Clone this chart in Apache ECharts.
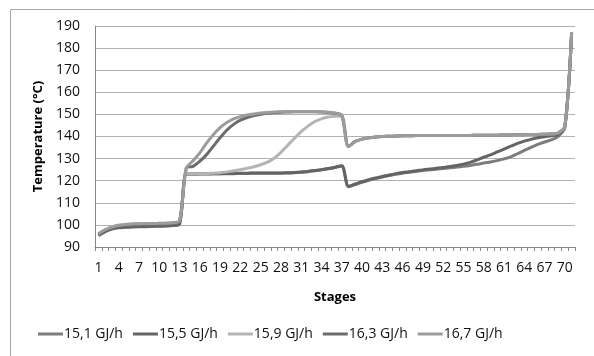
<!DOCTYPE html>
<html>
<head>
<meta charset="utf-8">
<script src="https://cdn.jsdelivr.net/npm/echarts@6/dist/echarts.min.js"></script>
<style>
  html, body { margin: 0; padding: 0; background: #fff; }
  #chart { width: 594px; height: 356px; }
</style>
</head>
<body>
<div id="chart"></div>
<script>
// Column stages 1..71
const stages = [];
for (let i = 1; i <= 71; i++) stages.push(String(i));

const seriesNames = ['15,1 GJ/h', '15,5 GJ/h', '15,9 GJ/h', '16,3 GJ/h', '16,7 GJ/h'];
const yTicks = { min: 90, max: 190, step: 10 };

// Temperature profiles (°C) per reboiler duty, stages 1..71
const t151 = [
  95.2, 96.9, 98.1, 98.7, 98.9, 99.1, 99.2, 99.2, 99.3, 99.4, 99.5, 99.7, 100.4,
  122.9, 122.9, 123.0, 123.0, 123.1, 123.1, 123.2, 123.2, 123.3, 123.3, 123.4, 123.4,
  123.4, 123.4, 123.4, 123.5, 123.6, 123.8, 124.1, 124.5, 124.9, 125.4, 126.0, 126.7,
  117.3, 118.3, 119.3, 120.2, 121.0, 121.7, 122.3, 122.9, 123.4, 123.8, 124.2, 124.6,
  124.9, 125.2, 125.5, 125.8, 126.2, 126.5, 126.9, 127.4, 128.0, 128.5, 129.1, 129.9,
  130.8, 132.2, 133.7, 135.1, 136.4, 137.5, 138.5, 140.0, 144.0, 186.5
];
const t155 = [
  95.3, 97.0, 98.2, 98.8, 99.0, 99.2, 99.3, 99.3, 99.4, 99.5, 99.6, 99.8, 100.5,
  123.0, 123.0, 123.1, 123.1, 123.2, 123.2, 123.3, 123.3, 123.4, 123.4, 123.5, 123.5,
  123.5, 123.5, 123.5, 123.6, 123.7, 123.9, 124.2, 124.6, 125.0, 125.5, 126.1, 126.8,
  117.5, 118.5, 119.5, 120.4, 121.2, 121.9, 122.6, 123.2, 123.7, 124.1, 124.5, 124.9,
  125.3, 125.6, 126.0, 126.4, 126.9, 127.5, 128.3, 129.4, 130.6, 131.7, 133.0, 134.3,
  135.6, 136.9, 137.9, 138.7, 139.4, 139.9, 140.3, 141.0, 144.5, 187.0
];
const t159 = [
  96.0, 97.8, 99.0, 99.8, 100.2, 100.4, 100.5, 100.6, 100.6, 100.7, 100.8, 101.0, 101.8,
  123.0, 123.0, 123.1, 123.2, 123.4, 123.6, 124.0, 124.5, 125.0, 125.6, 126.3, 127.2,
  128.4, 130.2, 132.8, 136.0, 139.2, 142.2, 144.7, 146.7, 148.0, 148.8, 149.2, 149.3,
  135.5, 137.8, 138.8, 139.4, 139.8, 140.0, 140.1, 140.2, 140.3, 140.3, 140.4, 140.4,
  140.4, 140.5, 140.5, 140.5, 140.5, 140.5, 140.5, 140.6, 140.6, 140.6, 140.6, 140.7,
  140.7, 140.8, 140.8, 140.9, 140.9, 141.0, 141.1, 141.6, 144.5, 187.0
];
const t163 = [
  95.8, 97.5, 98.7, 99.4, 99.8, 100.0, 100.1, 100.2, 100.2, 100.3, 100.4, 100.6, 101.4,
  125.7, 126.5, 128.8, 131.8, 135.6, 139.4, 142.9, 145.5, 147.4, 148.6, 149.5, 150.1,
  150.5, 150.8, 151.0, 151.1, 151.2, 151.2, 151.2, 151.2, 151.1, 150.9, 150.5, 149.5,
  135.5, 137.8, 138.8, 139.4, 139.8, 140.0, 140.1, 140.2, 140.3, 140.3, 140.4, 140.4,
  140.4, 140.5, 140.5, 140.5, 140.5, 140.5, 140.5, 140.6, 140.6, 140.6, 140.6, 140.7,
  140.7, 140.8, 140.8, 140.9, 140.9, 141.0, 141.1, 141.6, 144.5, 187.0
];
const t167 = [
  96.0, 97.8, 99.0, 99.8, 100.2, 100.4, 100.5, 100.6, 100.6, 100.7, 100.8, 101.0, 101.8,
  125.7, 129.0, 132.6, 137.0, 140.8, 144.0, 146.3, 148.0, 149.0, 149.7, 150.2, 150.6,
  150.9, 151.1, 151.2, 151.3, 151.3, 151.3, 151.3, 151.3, 151.2, 151.0, 150.6, 149.6,
  135.5, 137.8, 138.8, 139.4, 139.8, 140.0, 140.1, 140.2, 140.3, 140.3, 140.4, 140.4,
  140.4, 140.5, 140.5, 140.5, 140.5, 140.5, 140.5, 140.6, 140.6, 140.6, 140.6, 140.7,
  140.7, 140.8, 140.8, 140.9, 140.9, 141.0, 141.1, 141.6, 144.5, 187.0
];

const profiles = [t151, t155, t159, t163, t167];
const lineColors = ['#7c7c7c', '#646464', '#b4b4b4', '#6c6c6c', '#9c9c9c'];

const FONT = 'Open Sans';

const chart = echarts.init(document.getElementById('chart'), null, { renderer: 'canvas' });

chart.setOption({
  animation: false,
  backgroundColor: '#ffffff',
  graphic: [{
    type: 'rect',
    z: -10,
    shape: { x: 10.5, y: 9.5, width: 640, height: 420 },
    style: { fill: 'none', stroke: '#a8a8a8', lineWidth: 1 }
  }],
  grid: { left: 95, right: 19, top: 26, bottom: 109 },
  legend: {
    left: 33,
    top: 322,
    icon: 'rect',
    itemWidth: 25,
    itemHeight: 3,
    itemGap: 10,
    textStyle: { fontFamily: FONT, fontSize: 14, color: '#111', padding: [0, 0, 0, -4] },
    data: seriesNames
  },
  xAxis: {
    type: 'category',
    data: stages,
    boundaryGap: true,
    name: 'Stages',
    nameLocation: 'middle',
    nameGap: 44,
    nameTextStyle: { fontFamily: FONT, fontSize: 13, fontWeight: 'bold', color: '#000' },
    axisLine: { lineStyle: { color: '#888888', width: 1 } },
    axisTick: { show: true, interval: 0, length: 4, lineStyle: { color: '#888888' } },
    axisLabel: { interval: 2, margin: 14, fontFamily: FONT, fontSize: 14, color: '#111' },
    splitLine: { show: false }
  },
  yAxis: {
    type: 'value',
    min: yTicks.min,
    max: yTicks.max,
    interval: yTicks.step,
    name: 'Temperature (°C)',
    nameLocation: 'middle',
    nameGap: 46,
    nameRotate: 90,
    nameTextStyle: { fontFamily: FONT, fontSize: 13, fontWeight: 'bold', color: '#000' },
    axisLine: { show: true, lineStyle: { color: '#888888', width: 1 } },
    axisTick: { show: false },
    axisLabel: { margin: 15, fontFamily: FONT, fontSize: 14, color: '#111' },
    splitLine: { lineStyle: { color: '#b2b2b2', width: 1 } }
  },
  series: seriesNames.map((name, i) => ({
    name: name,
    type: 'line',
    data: profiles[i],
    smooth: 0.3,
    symbol: 'none',
    showSymbol: false,
    color: lineColors[i],
    lineStyle: { color: lineColors[i], width: 3 },
    z: 2 + i
  }))
});
</script>
</body>
</html>
